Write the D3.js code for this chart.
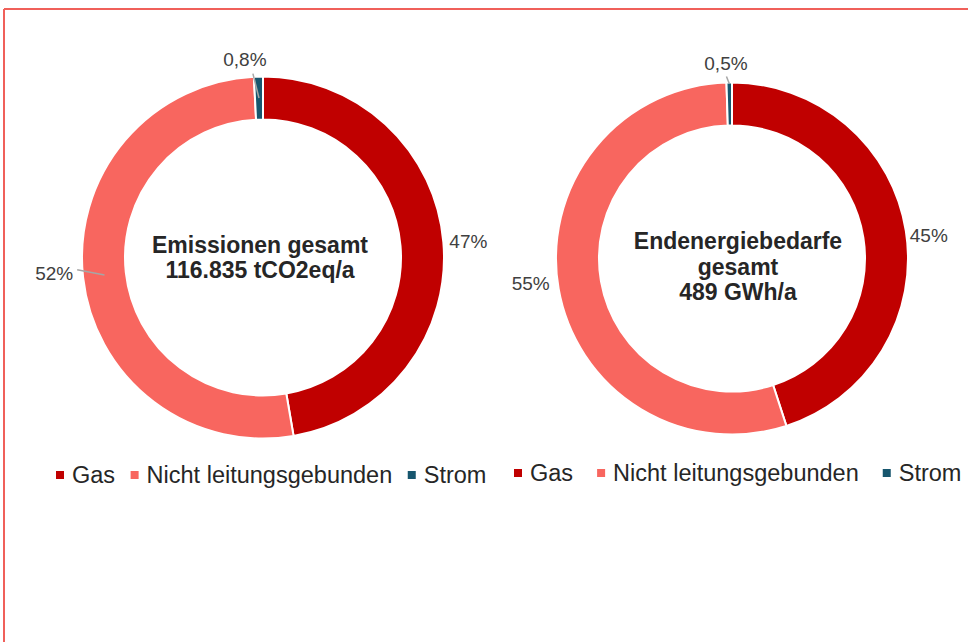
<!DOCTYPE html>
<html>
<head>
<meta charset="utf-8">
<script src="https://cdn.jsdelivr.net/npm/d3@7"></script>
<style>
  html, body { margin: 0; padding: 0; background: #fff; }
  svg { display: block; font-family: "Liberation Sans", Arial, sans-serif; }
</style>
</head>
<body>
<svg id="chart" width="968" height="642"></svg>
<script>
const categories = ["Gas", "Nicht leitungsgebunden", "Strom"];
const emissionShares = [47.3, 51.9, 0.8];
const energyShares = [45.0, 54.5, 0.5];
const emissionTitle = ["Emissionen gesamt", "116.835 tCO2eq/a"];
const energyTitle = ["Endenergiebedarfe", "gesamt", "489 GWh/a"];
const colors = ["#c00000", "#f8665f", "#17566e"];

// german number format for the percent labels
const de = d3.formatLocale({decimal: ",", thousands: ".", grouping: [3], currency: ["", " €"]});
function pctLabel(v) {
    return v < 1 ? de.format(".1f")(v) + "%" : de.format(".0f")(v) + "%";
}

// layout for each donut (positions only, values come from the arrays above)
const charts = [
    {
        shares: emissionShares, title: emissionTitle,
        cx: 263, cy: 257.5, rOuter: 181, rInner: 138,
        titleDx: -3, titleDy: 0,
        labelGap: [6, 12, 22],
        labelNudge: [[0, 0], [2, -5], [-13, 5]],
        leaders: [null, {dx: 4, dy: -4, r: 159.5}, {dx: 8, dy: 14, r: 159.5}],
        legendX: 56, legendY: 475, legendGap: 15.5
    },
    {
        shares: energyShares, title: energyTitle,
        cx: 732, cy: 258.5, rOuter: 176, rInner: 133,
        titleDx: 6, titleDy: 8,
        labelGap: [6, 6, 18],
        labelNudge: [[-2, 5], [-3, -6], [-3, -1]],
        leaders: [null, null, {dx: 0.5, dy: 13, r: 175}],
        legendX: 514, legendY: 473, legendGap: 24
    }
];

const svg = d3.select("#chart");

// frame lines (top and left)
svg.append("line").attr("x1", 4).attr("x2", 968).attr("y1", 9).attr("y2", 9)
    .attr("stroke", "#f0605a").attr("stroke-width", 2);
svg.append("line").attr("x1", 4).attr("x2", 4).attr("y1", 9).attr("y2", 642)
    .attr("stroke", "#f0605a").attr("stroke-width", 2);

const pie = d3.pie().sort(null).value(d => d);
const color = d3.scaleOrdinal().domain(categories).range(colors);

charts.forEach(function(c) {
    const g = svg.append("g").attr("transform", "translate(" + c.cx + "," + c.cy + ")");
    const arcs = pie(c.shares);
    const arc = d3.arc().innerRadius(c.rInner).outerRadius(c.rOuter);

    g.selectAll("path.slice")
        .data(arcs)
        .enter().append("path")
        .attr("class", "slice")
        .attr("d", arc)
        .attr("fill", (d, i) => color(categories[i]))
        .attr("stroke", "#fff")
        .attr("stroke-width", 2);

    // point on a circle at angle a (0 = top, clockwise)
    function pt(a, r) { return [r * Math.sin(a), -r * Math.cos(a)]; }

    arcs.forEach(function(d, i) {
        const mid = (d.startAngle + d.endAngle) / 2;
        const p = pt(mid, c.rOuter + c.labelGap[i]);
        const s = Math.sin(mid);
        const anchor = s > 0.3 ? "start" : (s < -0.3 ? "end" : "middle");
        const lx = p[0] + c.labelNudge[i][0];
        const ly = p[1] + c.labelNudge[i][1];

        const ld = c.leaders[i];
        if (ld) {
            const e = pt(mid, ld.r);
            g.append("line")
                .attr("x1", lx + ld.dx).attr("y1", ly + ld.dy)
                .attr("x2", e[0]).attr("y2", e[1])
                .attr("stroke", "#a6a6a6").attr("stroke-width", 1.5);
        }

        g.append("text")
            .attr("x", lx).attr("y", ly)
            .attr("text-anchor", anchor)
            .attr("dominant-baseline", "central")
            .attr("font-size", 19)
            .attr("fill", "#404040")
            .text(pctLabel(c.shares[i]));
    });

    // center title
    const lineH = 25.5;
    const n = c.title.length;
    g.append("text")
        .attr("text-anchor", "middle")
        .attr("font-size", 23)
        .attr("font-weight", "bold")
        .attr("fill", "#262626")
        .selectAll("tspan")
        .data(c.title)
        .enter().append("tspan")
        .attr("x", c.titleDx)
        .attr("y", (d, i) => c.titleDy + (i - (n - 1) / 2) * lineH + 8)
        .text(d => d);

    // legend
    let x = c.legendX;
    categories.forEach(function(cat, i) {
        svg.append("rect")
            .attr("x", x).attr("y", c.legendY - 4)
            .attr("width", 8).attr("height", 8)
            .attr("fill", color(cat));
        const t = svg.append("text")
            .attr("x", x + 16).attr("y", c.legendY + 8)
            .attr("font-size", 23.5)
            .attr("fill", "#262626")
            .text(cat);
        x += 16 + t.node().getComputedTextLength() + c.legendGap;
    });
});
</script>
</body>
</html>
